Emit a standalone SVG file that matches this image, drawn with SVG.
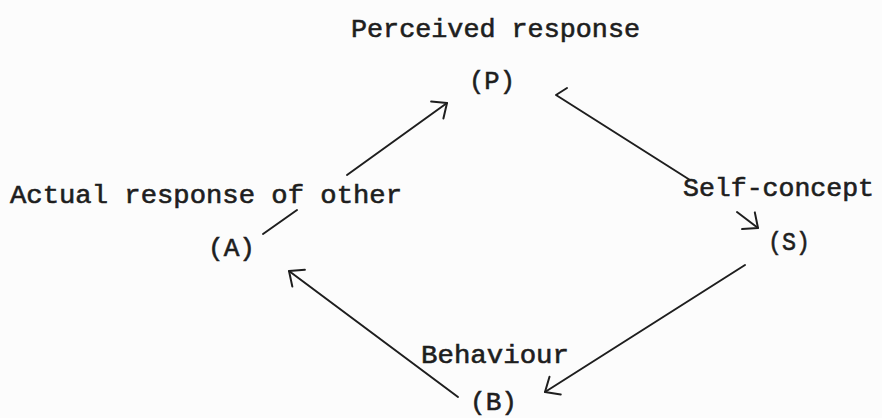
<svg xmlns="http://www.w3.org/2000/svg" width="882" height="418" viewBox="0 0 882 418">
  <style>
    .lbl { font-family: "Liberation Mono", "Courier New", monospace; font-size: 26px; fill: #1e1e1e; stroke: #1e1e1e; stroke-width: 0.6; }
    .edge { fill: none; stroke: #1e1e1e; stroke-width: 2; stroke-linecap: round; stroke-linejoin: round; }
  </style>
  <defs>
    <marker id="arr" markerUnits="userSpaceOnUse" markerWidth="30" markerHeight="30" viewBox="-20 -15 30 30" refX="0" refY="0" orient="auto">
      <path d="M -12 -10.5 L 0 0 L -12 10.5" fill="none" stroke="#1e1e1e" stroke-width="2" stroke-linecap="round" stroke-linejoin="round"/>
    </marker>
  </defs>
  <rect width="882" height="418" fill="#fcfcfc"/>

  <g id="node-P">
    <text class="lbl" x="351" y="37" textLength="289" lengthAdjust="spacingAndGlyphs">Perceived response</text>
    <text class="lbl" x="469" y="89" textLength="46" lengthAdjust="spacingAndGlyphs">(P)</text>
  </g>
  <g id="node-A">
    <text class="lbl" x="10" y="203" textLength="392" lengthAdjust="spacingAndGlyphs">Actual response of other</text>
    <text class="lbl" x="208" y="256" textLength="47" lengthAdjust="spacingAndGlyphs">(A)</text>
  </g>
  <g id="node-S">
    <text class="lbl" x="683" y="196" textLength="191" lengthAdjust="spacingAndGlyphs">Self-concept</text>
    <text class="lbl" x="768" y="250" textLength="42" lengthAdjust="spacingAndGlyphs">(S)</text>
  </g>
  <g id="node-B">
    <text class="lbl" x="421" y="363" textLength="148" lengthAdjust="spacingAndGlyphs">Behaviour</text>
    <text class="lbl" x="470" y="410" textLength="47" lengthAdjust="spacingAndGlyphs">(B)</text>
  </g>

  <g id="connectors">
    <line class="edge" x1="263" y1="234" x2="297" y2="210"/>
    <line class="edge" x1="347" y1="175" x2="447" y2="103" marker-end="url(#arr)"/>
    <polyline class="edge" points="567,88 556,95 690,180"/>
    <line class="edge" x1="737" y1="212" x2="758" y2="228" marker-end="url(#arr)"/>
    <line class="edge" x1="745" y1="265" x2="545" y2="392" marker-end="url(#arr)"/>
    <line class="edge" x1="458" y1="397" x2="289" y2="271" marker-end="url(#arr)"/>
  </g>
</svg>
